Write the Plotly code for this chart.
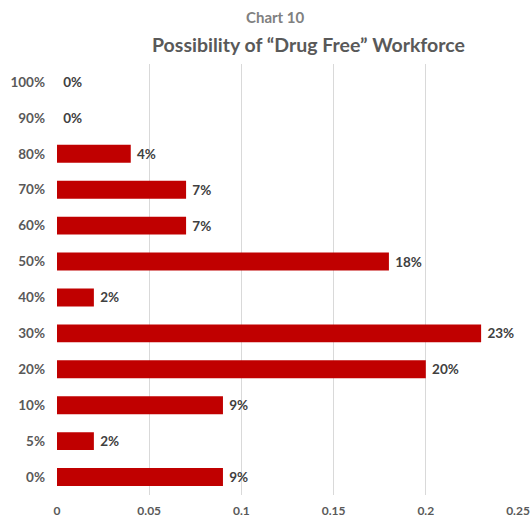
import plotly.graph_objects as go

categories = ["0%", "5%", "10%", "20%", "30%", "40%", "50%", "60%", "70%", "80%", "90%", "100%"]
shares = [0.09, 0.02, 0.09, 0.20, 0.23, 0.02, 0.18, 0.07, 0.07, 0.04, 0.0, 0.0]
x_ticks = [0, 0.05, 0.1, 0.15, 0.2, 0.25]
x_tick_text = ["0", "0.05", "0.1", "0.15", "0.2", "0.25"]

FONT = "Lato, 'Open Sans', sans-serif"

L, R, T, B, W, H = 57, 12, 64, 24, 530, 519

fig = go.Figure(
    go.Bar(
        x=shares,
        y=categories,
        orientation="h",
        width=0.5,
        marker=dict(color="#C00000", line=dict(width=0)),
        text=[f" {round(v * 100)}%" for v in shares],
        textposition="outside",
        cliponaxis=False,
        textfont=dict(family=FONT, size=13.5, color="#404040", weight="bold"),
    )
)


def px_to_paper(px, py):
    return (px - L) / (W - L - R), 1 + (T - py) / (H - T - B)


ax1, ay1 = px_to_paper(275, 17)
ax2, ay2 = px_to_paper(308, 45)

fig.update_layout(
    width=W,
    height=H,
    margin=dict(l=L, r=R, t=T, b=B, autoexpand=False),
    plot_bgcolor="white",
    paper_bgcolor="white",
    showlegend=False,
    annotations=[
        dict(text="<b>Chart 10</b>", x=ax1, y=ay1, xref="paper", yref="paper",
             xanchor="center", yanchor="middle", showarrow=False,
             font=dict(family=FONT, size=15, color="#808080")),
        dict(text="<b>Possibility of “Drug Free” Workforce</b>", x=ax2, y=ay2,
             xref="paper", yref="paper", xanchor="center", yanchor="middle",
             showarrow=False, font=dict(family=FONT, size=19.5, color="#595959")),
    ],
)

fig.update_xaxes(
    range=[0, 0.25],
    tickvals=x_ticks,
    ticktext=x_tick_text,
    showgrid=True,
    gridcolor="#D9D9D9",
    gridwidth=1,
    zeroline=False,
    showline=False,
    ticks="",
    automargin=False,
    ticklabelstandoff=7,
    tickfont=dict(family=FONT, size=12, color="#595959", weight="bold"),
)
fig.update_yaxes(
    categoryorder="array",
    categoryarray=categories,
    showgrid=False,
    zeroline=False,
    showline=False,
    ticks="",
    automargin=False,
    ticklabelstandoff=11,
    tickfont=dict(family=FONT, size=13.5, color="#595959", weight="bold"),
)

fig.write_html("out.html")
